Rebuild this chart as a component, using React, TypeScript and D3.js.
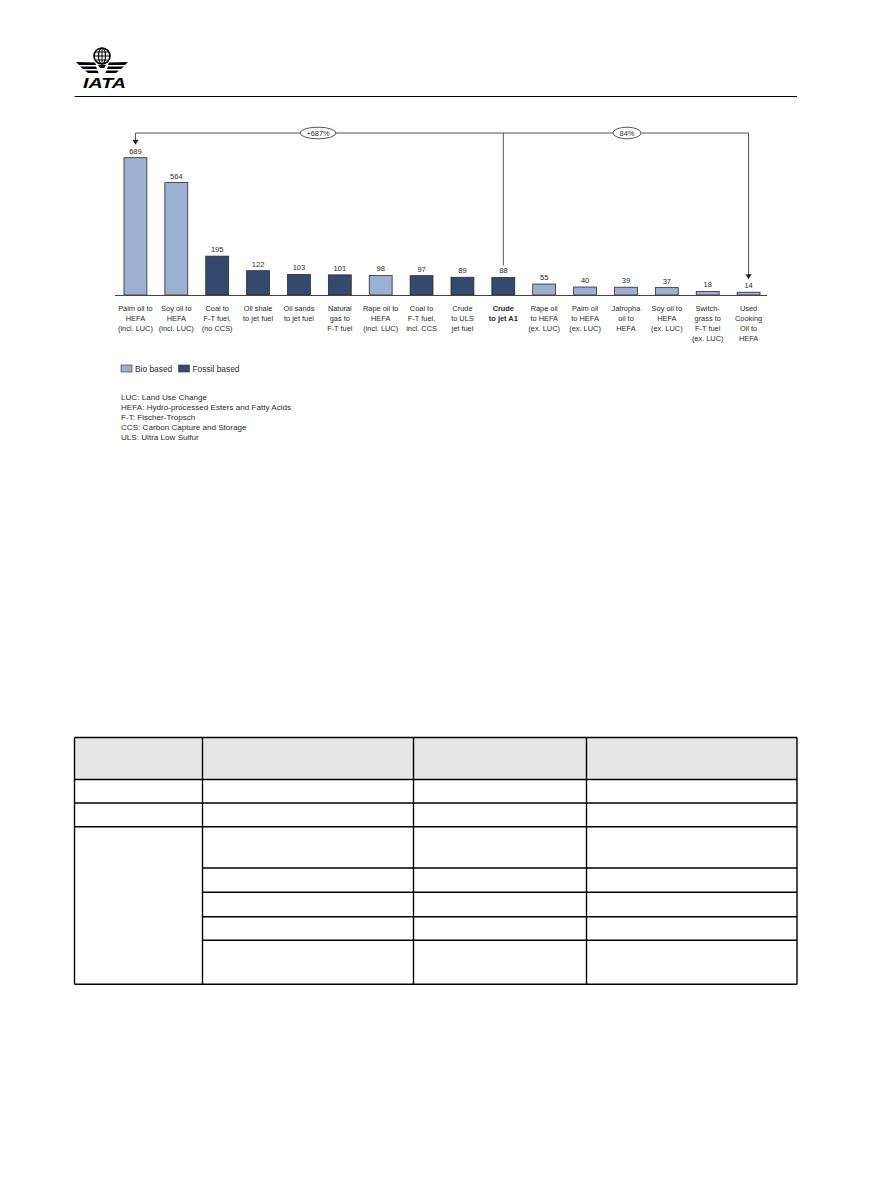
import React from "react";
import * as d3 from "d3";

// life-cycle emissions per pathway (gCO2e/MJ)
const categories = [
  ["Palm oil to", "HEFA", "(incl. LUC)"],
  ["Soy oil to", "HEFA", "(incl. LUC)"],
  ["Coal to", "F-T fuel,", "(no CCS)"],
  ["Oil shale", "to jet fuel"],
  ["Oil sands", "to jet fuel"],
  ["Natural", "gas to", "F-T fuel"],
  ["Rape oil to", "HEFA", "(incl. LUC)"],
  ["Coal to", "F-T fuel,", "incl. CCS"],
  ["Crude", "to ULS", "jet fuel"],
  ["Crude", "to jet A1"],
  ["Rape oil", "to HEFA", "(ex. LUC)"],
  ["Palm oil", "to HEFA", "(ex. LUC)"],
  ["Jatropha", "oil to", "HEFA"],
  ["Soy oil to", "HEFA", "(ex. LUC)"],
  ["Switch-", "grass to", "F-T fuel", "(ex. LUC)"],
  ["Used", "Cooking", "Oil to", "HEFA"],
];
const values = [689, 564, 195, 122, 103, 101, 98, 97, 89, 88, 55, 40, 39, 37, 18, 14];
const types = [
  "bio", "bio", "fossil", "fossil", "fossil", "fossil", "bio", "fossil",
  "fossil", "fossil", "bio", "bio", "bio", "bio", "bio", "bio",
];
const referenceIndex = 9;
const comparisons = [
  { to: 0, label: "+687%" },
  { to: 15, label: "84%" },
];
const legendLabels = ["Bio based", "Fossil based"];
const legendTypes = ["bio", "fossil"];
const abbreviations = [
  "LUC: Land Use Change",
  "HEFA: Hydro-processed Esters and Fatty Acids",
  "F-T: Fischer-Tropsch",
  "CCS: Carbon Capture and Storage",
  "ULS: Ultra Low Sulfur",
];

// empty table below the chart (column edges and row edges)
const tableCols = [74.5, 202.5, 413.5, 586.5, 797];
const tableRows = [737.5, 779.5, 803, 826.7, 868, 892.3, 916.7, 940.3, 984.3];

const FONT = "'Liberation Sans', Arial, sans-serif";
const colors = { bio: "#9BB0D2", fossil: "#33496D" };
const TEXT = "#2a2a2a";

function Logo() {
  return (
    <g>
      {/* globe */}
      <circle cx={102} cy={56} r={8} fill="none" stroke="#000" strokeWidth={1.6} />
      <ellipse cx={102} cy={56} rx={3.5} ry={8} fill="none" stroke="#000" strokeWidth={1.2} />
      <line x1={102} y1={48} x2={102} y2={64} stroke="#000" strokeWidth={1} />
      <line x1={94} y1={56} x2={110} y2={56} stroke="#000" strokeWidth={1} />
      <line x1={95.5} y1={52} x2={108.5} y2={52} stroke="#000" strokeWidth={0.9} />
      <line x1={95.5} y1={60} x2={108.5} y2={60} stroke="#000" strokeWidth={0.9} />
      <path d="M98,65 L106,65 L104,68 L100,68 Z" fill="#000" />
      {/* wings */}
      <path d="M76,62 L95,62.5 L96,65 L79,65 Z" fill="#000" />
      <path d="M80,66.5 L96,66.5 L97,69 L83,69 Z" fill="#000" />
      <path d="M85,70.5 L97.5,70.5 L98.5,73 L88,73 Z" fill="#000" />
      <path d="M128,62 L109,62.5 L108,65 L125,65 Z" fill="#000" />
      <path d="M124,66.5 L108,66.5 L107,69 L121,69 Z" fill="#000" />
      <path d="M119,70.5 L106.5,70.5 L105.5,73 L116,73 Z" fill="#000" />
      <text
        x={83}
        y={87.5}
        fontFamily={FONT}
        fontWeight="bold"
        fontStyle="italic"
        fontSize={15}
        textLength={43}
        lengthAdjust="spacingAndGlyphs"
        fill="#000"
      >
        IATA
      </text>
      <line x1={74.5} y1={96.5} x2={797} y2={96.5} stroke="#000" strokeWidth={1} />
    </g>
  );
}

function BarChart() {
  const idx = d3.range(values.length);
  const x = d3
    .scaleBand<number>()
    .domain(idx)
    .range([115, 769])
    .paddingInner(0.44)
    .paddingOuter(0.22);
  const y = d3.scaleLinear().domain([0, 700]).range([295, 295 - 139.5]);
  const cx = (i: number) => (x(i) as number) + x.bandwidth() / 2;

  const bracketY = 133;
  const refX = cx(referenceIndex);

  return (
    <g fontFamily={FONT}>
      {idx.map((i) => (
        <rect
          key={"b" + i}
          x={x(i)}
          y={y(values[i])}
          width={x.bandwidth()}
          height={y(0) - y(values[i])}
          fill={colors[types[i] as "bio" | "fossil"]}
          stroke="#2b2b2b"
          strokeWidth={0.8}
        />
      ))}
      <line x1={115} y1={295.5} x2={767} y2={295.5} stroke="#444" strokeWidth={1} />

      {idx.map((i) => (
        <text key={"v" + i} x={cx(i)} y={y(values[i]) - 4} textAnchor="middle" fontSize={7.5} fill={TEXT}>
          {values[i]}
        </text>
      ))}

      {idx.map((i) => (
        <text
          key={"c" + i}
          x={cx(i)}
          y={310.5}
          textAnchor="middle"
          fontSize={7.4}
          fill={TEXT}
          fontWeight={i === referenceIndex ? "bold" : "normal"}
        >
          {categories[i].map((line, k) => (
            <tspan key={k} x={cx(i)} dy={k === 0 ? 0 : 10}>
              {line}
            </tspan>
          ))}
        </text>
      ))}

      {/* comparison brackets */}
      <line x1={refX} y1={bracketY} x2={refX} y2={y(values[referenceIndex]) - 12} stroke="#555" strokeWidth={1} />
      {comparisons.map((c, k) => {
        const tx = cx(c.to);
        const mid = k === 0 ? 318 : 627;
        const rx = k === 0 ? 18 : 14;
        const tipY = y(values[c.to]) - 13;
        return (
          <g key={"cmp" + k}>
            <line x1={refX} y1={bracketY} x2={tx} y2={bracketY} stroke="#555" strokeWidth={1} />
            <line x1={tx} y1={bracketY} x2={tx} y2={tipY - 4} stroke="#555" strokeWidth={1} />
            <path
              d={`M${tx - 3},${tipY - 5} L${tx + 3},${tipY - 5} L${tx},${tipY} Z`}
              fill="#222"
            />
            <ellipse cx={mid} cy={bracketY} rx={rx} ry={5.8} fill="#fff" stroke="#444" strokeWidth={0.9} />
            <text x={mid} y={bracketY + 2.6} textAnchor="middle" fontSize={7.4} fill={TEXT}>
              {c.label}
            </text>
          </g>
        );
      })}

      {/* legend */}
      {legendLabels.map((l, k) => {
        const lx = k === 0 ? 121 : 178.5;
        return (
          <g key={"l" + k}>
            <rect x={lx} y={365} width={11} height={7} fill={colors[legendTypes[k] as "bio" | "fossil"]} stroke="#444" strokeWidth={0.7} />
            <text x={lx + 14} y={371.5} fontSize={8.4} fill={TEXT}>
              {l}
            </text>
          </g>
        );
      })}

      {abbreviations.map((a, k) => (
        <text key={"a" + k} x={121} y={400 + k * 10} fontSize={8.1} fill={TEXT}>
          {a}
        </text>
      ))}
    </g>
  );
}

function EmptyTable() {
  const left = tableCols[0];
  const right = tableCols[tableCols.length - 1];
  const top = tableRows[0];
  const bottom = tableRows[tableRows.length - 1];
  return (
    <g stroke="#000" strokeWidth={1.4} fill="none">
      <rect x={left} y={top} width={right - left} height={tableRows[1] - top} fill="#E6E6E6" stroke="none" />
      {tableRows.map((ry, k) => {
        const x1 = k > 3 && k < tableRows.length - 1 ? tableCols[1] : left;
        return <line key={"r" + k} x1={x1} y1={ry} x2={right} y2={ry} />;
      })}
      {tableCols.map((c, k) => (
        <line key={"c" + k} x1={c} y1={top} x2={c} y2={bottom} />
      ))}
    </g>
  );
}

export default function App() {
  return (
    <svg
      width={891}
      height={1188}
      style={{ position: "absolute", left: 0, top: 0, background: "#fff" }}
    >
      <Logo />
      <BarChart />
      <EmptyTable />
    </svg>
  );
}
